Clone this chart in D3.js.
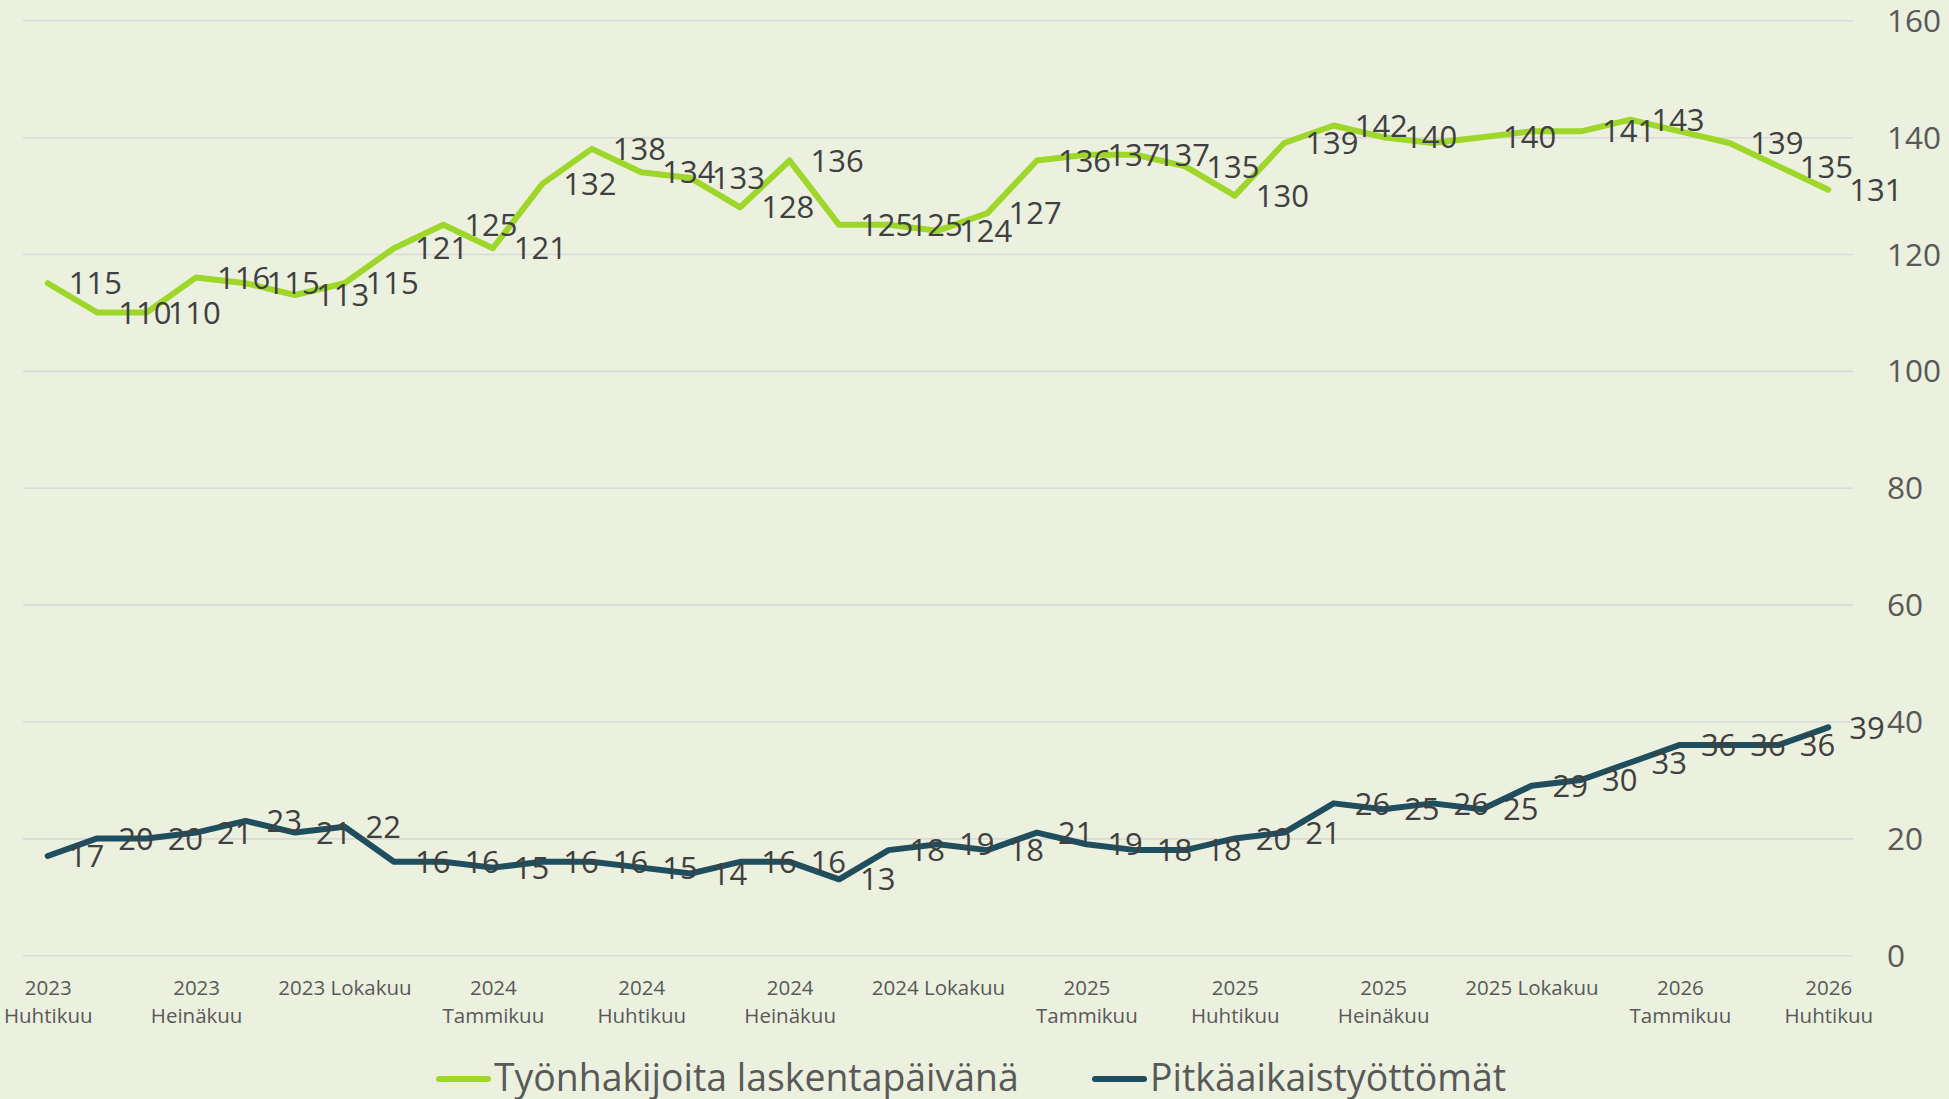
<!DOCTYPE html>
<html>
<head>
<meta charset="utf-8">
<script src="https://cdn.jsdelivr.net/npm/d3@7"></script>
<style>
  html, body { margin: 0; padding: 0; background: #EBF1DE; }
  svg { display: block; }
  text { font-family: "Open Sans", "DejaVu Sans", sans-serif; }
</style>
</head>
<body>
<svg id="chart" width="1949" height="1099"></svg>
<script>
// ---- Data ----
const categories = [
  "2023 Huhtikuu","2023 Toukokuu","2023 Kesäkuu","2023 Heinäkuu","2023 Elokuu","2023 Syyskuu",
  "2023 Lokakuu","2023 Marraskuu","2023 Joulukuu","2024 Tammikuu","2024 Helmikuu","2024 Maaliskuu",
  "2024 Huhtikuu","2024 Toukokuu","2024 Kesäkuu","2024 Heinäkuu","2024 Elokuu","2024 Syyskuu",
  "2024 Lokakuu","2024 Marraskuu","2024 Joulukuu","2025 Tammikuu","2025 Helmikuu","2025 Maaliskuu",
  "2025 Huhtikuu","2025 Toukokuu","2025 Kesäkuu","2025 Heinäkuu","2025 Elokuu","2025 Syyskuu",
  "2025 Lokakuu","2025 Marraskuu","2025 Joulukuu","2026 Tammikuu","2026 Helmikuu","2026 Maaliskuu",
  "2026 Huhtikuu"
];
const seriesNames = ["Työnhakijoita laskentapäivänä", "Pitkäaikaistyöttömät"];
const jobSeekers = [115,110,110,116,115,113,115,121,125,121,132,138,134,133,128,136,125,125,124,127,
                    136,137,137,135,130,139,142,140,139,140,141,141,143,141,139,135,131];
const longTermUnemployed = [17,20,20,21,23,21,22,16,16,15,16,16,15,14,16,16,13,18,19,18,
                            21,19,18,18,20,21,26,25,26,25,29,30,33,36,36,36,39];
const jobSeekersHiddenLabels = [28, 30, 33];
const tickIndices = [0,3,6,9,12,15,18,21,24,27,30,33,36];
const tickLabels = ["2023\nHuhtikuu","2023\nHeinäkuu","2023 Lokakuu","2024\nTammikuu","2024\nHuhtikuu",
                    "2024\nHeinäkuu","2024 Lokakuu","2025\nTammikuu","2025\nHuhtikuu","2025\nHeinäkuu",
                    "2025 Lokakuu","2026\nTammikuu","2026\nHuhtikuu"];
const yTicks = [0,20,40,60,80,100,120,140,160];
const colors = ["#9FD62A", "#1F4E5F"];

// ---- Layout ----
const svg = d3.select("#chart");
const plotLeft = 23, plotRight = 1853, plotTop = 20.3, plotBottom = 955.3;

const x = d3.scalePoint().domain(d3.range(categories.length)).range([plotLeft, plotRight]).padding(0.5);
const y = d3.scaleLinear().domain([0, 160]).range([plotBottom, plotTop]);

// gridlines + y labels
const yAxis = d3.axisRight(y).tickValues(yTicks).tickSize(plotRight - plotLeft).tickPadding(34).tickFormat(d3.format("d"));
const gy = svg.append("g").attr("transform", `translate(${plotLeft},0)`).call(yAxis);
gy.select(".domain").remove();
gy.selectAll(".tick line").attr("stroke", "#D9D9D9").attr("stroke-width", 1.6);
gy.selectAll(".tick text").attr("fill", "#595959").attr("font-size", 31.5)
  .attr("font-family", "Open Sans").attr("text-anchor", "start").attr("dy", "0.35em");

// x axis labels
const xAxis = d3.axisBottom(x).tickValues(tickIndices).tickSize(0).tickFormat("");
const gx = svg.append("g").attr("transform", `translate(0,${plotBottom})`).call(xAxis);
gx.select(".domain").remove();
gx.selectAll(".tick").each(function(d) {
  const lines = tickLabels[tickIndices.indexOf(d)].split("\n");
  const t = d3.select(this).append("text")
    .attr("fill", "#595959").attr("font-size", 20.5).attr("font-family", "Open Sans")
    .attr("text-anchor", "middle");
  lines.forEach((ln, i) => {
    t.append("tspan").attr("x", 0).attr("y", 40 + i * 28).text(ln);
  });
});

// lines
const series = [jobSeekers, longTermUnemployed];
const lineGen = d3.line().x((d, i) => x(i)).y(d => y(d));
series.forEach((vals, s) => {
  svg.append("path").datum(vals)
    .attr("d", lineGen)
    .attr("fill", "none")
    .attr("stroke", colors[s])
    .attr("stroke-width", 6)
    .attr("stroke-linejoin", "round")
    .attr("stroke-linecap", "round");
});

// data labels
series.forEach((vals, s) => {
  const hidden = s === 0 ? jobSeekersHiddenLabels : [];
  svg.append("g").selectAll("text")
    .data(vals.map((v, i) => ({v, i})).filter(d => !hidden.includes(d.i)))
    .join("text")
    .attr("x", d => x(d.i) + 21)
    .attr("y", d => y(d.v))
    .attr("dy", "0.36em")
    .attr("font-size", 31)
    .attr("font-family", "Open Sans")
    .attr("fill", "#404040")
    .text(d => d.v);
});

// legend
const legendY = 1079;
const legendXs = [436, 1092];
seriesNames.forEach((name, s) => {
  const g = svg.append("g").attr("transform", `translate(${legendXs[s]},${legendY})`);
  g.append("line").attr("x1", 3).attr("x2", 52).attr("y1", 0).attr("y2", 0)
    .attr("stroke", colors[s]).attr("stroke-width", 6).attr("stroke-linecap", "round");
  g.append("text").attr("x", 58).attr("y", 12).attr("font-size", 37.4)
    .attr("font-family", "Open Sans").attr("fill", "#595959").text(name);
});
</script>
</body>
</html>
